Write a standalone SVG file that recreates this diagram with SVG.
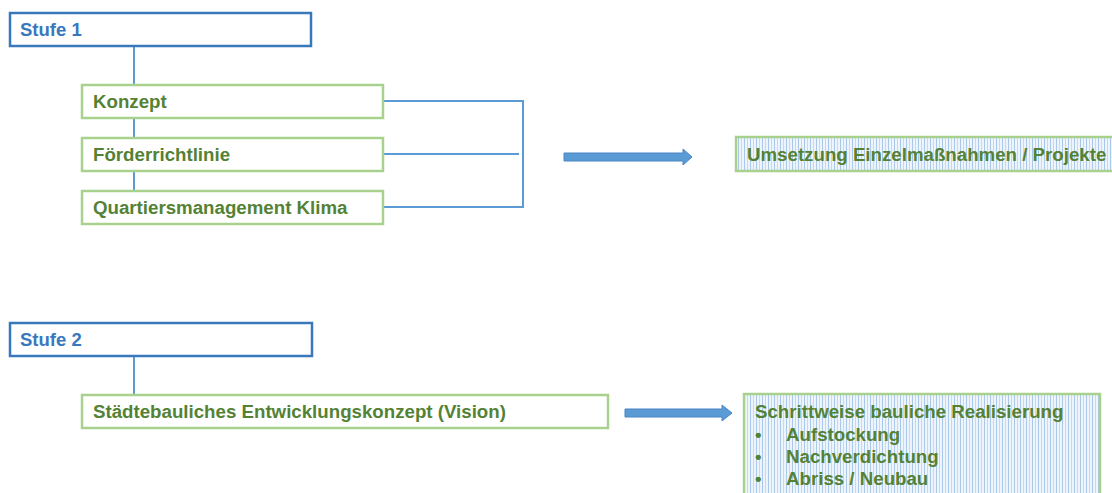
<svg xmlns="http://www.w3.org/2000/svg" width="1112" height="493" viewBox="0 0 1112 493">
<defs>
<style>
.stufe{fill:#fff;stroke:#3a78bd;stroke-width:2.5}
.box{fill:#fff;stroke:#a9d18e;stroke-width:2.5}
.hatch{fill:url(#stripes);stroke:#a9d18e;stroke-width:2.5}
.tb{font-family:"Liberation Sans",Arial,sans-serif;font-weight:bold;font-size:18.5px;fill:#3a78bd}
.tg{font-family:"Liberation Sans",Arial,sans-serif;font-weight:bold;font-size:18.7px;fill:#548235}
.ln{stroke:#5b9bd5;stroke-width:2;fill:none}
.arr{fill:#5b9bd5;stroke:#4a86c2;stroke-width:1}
</style>
<pattern id="stripes" width="6" height="4" patternUnits="userSpaceOnUse">
<rect width="6" height="4" fill="#eef4fb"/>
<rect x="0" width="1" height="4" fill="#a9c8ea"/>
<rect x="3" width="1" height="4" fill="#c4daf1"/>
</pattern>
</defs>
<g id="connectors">
<line class="ln" x1="134" y1="46" x2="134" y2="191"/>
<line class="ln" x1="383" y1="101" x2="523" y2="101"/>
<line class="ln" x1="383" y1="154" x2="519" y2="154"/>
<line class="ln" x1="383" y1="207" x2="523" y2="207"/>
<line class="ln" x1="523" y1="100" x2="523" y2="208"/>
<line class="ln" x1="134" y1="356" x2="134" y2="395"/>
<polygon class="arr" points="564,153 683,153 683,149 692,157 683,165 683,161 564,161"/>
<polygon class="arr" points="625,409 722,409 722,405 732,413 722,421 722,417 625,417"/>
</g>
<g id="stufe1">
<rect class="stufe" x="10" y="13" width="301" height="33"/>
<text class="tb" x="20" y="36">Stufe 1</text>
</g>
<g id="konzept">
<rect class="box" x="82" y="85" width="301" height="33"/>
<text class="tg" x="93" y="108">Konzept</text>
</g>
<g id="foerderrichtlinie">
<rect class="box" x="82" y="138" width="301" height="33"/>
<text class="tg" x="93" y="161">Förderrichtlinie</text>
</g>
<g id="quartiersmanagement">
<rect class="box" x="82" y="191" width="301" height="33"/>
<text class="tg" x="93" y="214">Quartiersmanagement Klima</text>
</g>
<g id="umsetzung">
<rect class="hatch" x="736" y="137" width="390" height="34"/>
<text class="tg" x="747" y="161">Umsetzung Einzelmaßnahmen / Projekte</text>
</g>
<g id="stufe2">
<rect class="stufe" x="10" y="323" width="302" height="33"/>
<text class="tb" x="20" y="346">Stufe 2</text>
</g>
<g id="entwicklungskonzept">
<rect class="box" x="82" y="395" width="526" height="33"/>
<text class="tg" x="93" y="418">Städtebauliches Entwicklungskonzept (Vision)</text>
</g>
<g id="realisierung">
<rect class="hatch" x="744" y="394" width="356" height="110"/>
<text class="tg" x="755" y="418">Schrittweise bauliche Realisierung</text>
<text class="tg" x="755" y="441">•</text>
<text class="tg" x="786" y="441">Aufstockung</text>
<text class="tg" x="755" y="463">•</text>
<text class="tg" x="786" y="463">Nachverdichtung</text>
<text class="tg" x="755" y="485">•</text>
<text class="tg" x="786" y="485">Abriss / Neubau</text>
</g>
</svg>
